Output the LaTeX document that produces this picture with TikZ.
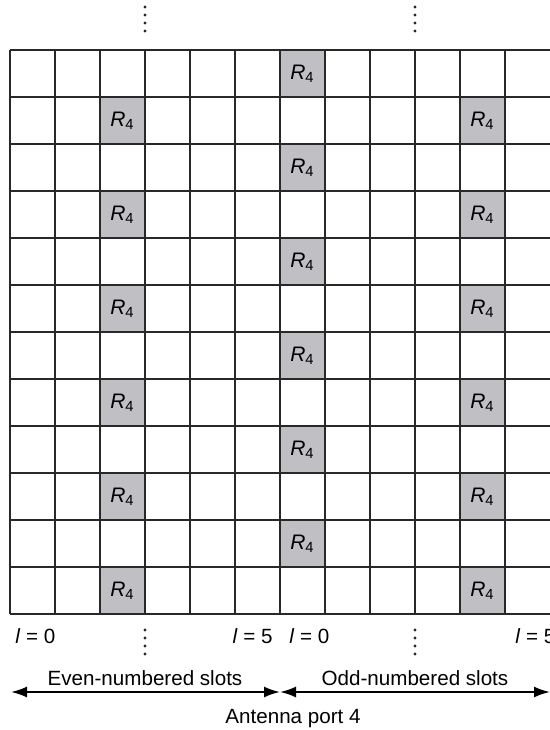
\documentclass[tikz,border=0pt]{standalone}
\usepackage{fontspec}
\setmainfont{Liberation Sans}
\usepackage{tikz}
\usetikzlibrary{positioning, arrows.meta}

\definecolor{cellgray}{RGB}{192,192,196}
\definecolor{gridcol}{RGB}{40,40,40}
\newcommand{\rfour}{\textit{R}\textsubscript{4}}

\begin{document}
\begin{tikzpicture}[
    x=0.5pt, y=-0.5pt,
    refcell/.style={
        fill=cellgray,
        minimum width=22.5pt,
        minimum height=23.5pt,
        inner sep=0pt,
        font=\fontsize{10.5}{12}\selectfont
    },
    gridline/.style={draw=gridcol, line width=0.65pt},
    lbl/.style={inner sep=0pt, font=\fontsize{10.3}{12}\selectfont},
    span/.style={line width=1pt, {Latex[length=8pt,width=5.5pt]}-{Latex[length=8pt,width=5.5pt]}},
    dot/.style={fill=black!85}
]
\useasboundingbox (0,0) rectangle (550,730);

% Reference signals, even-numbered slot (l = 2)
\node[refcell] (e1) at (122.5,120.5) {\rfour};
\node[refcell] (e3) at (122.5,214.5) {\rfour};
\node[refcell] (e5) at (122.5,308.5) {\rfour};
\node[refcell] (e7) at (122.5,402.5) {\rfour};
\node[refcell] (e9) at (122.5,496.5) {\rfour};
\node[refcell] (e11) at (122.5,590.5) {\rfour};

% Reference signals, odd-numbered slot (l = 0)
\node[refcell] (m0) at (302.5,73.5) {\rfour};
\node[refcell] (m2) at (302.5,167.5) {\rfour};
\node[refcell] (m4) at (302.5,261.5) {\rfour};
\node[refcell] (m6) at (302.5,355.5) {\rfour};
\node[refcell] (m8) at (302.5,449.5) {\rfour};
\node[refcell] (m10) at (302.5,543.5) {\rfour};

% Reference signals, odd-numbered slot (l = 4)
\node[refcell] (o1) at (482.5,120.5) {\rfour};
\node[refcell] (o3) at (482.5,214.5) {\rfour};
\node[refcell] (o5) at (482.5,308.5) {\rfour};
\node[refcell] (o7) at (482.5,402.5) {\rfour};
\node[refcell] (o9) at (482.5,496.5) {\rfour};
\node[refcell] (o11) at (482.5,590.5) {\rfour};

% Resource grid
\foreach \i in {0,...,11}
    \draw[gridline] (10+45*\i,50) -- (10+45*\i,614);
\foreach \j in {0,...,12}
    \draw[gridline] (10,50+47*\j) -- (550,50+47*\j);

% Dots
\foreach \y in {7,15,23,31,630,638,646,654} {
    \fill[dot] (145,\y) circle (0.8pt);
    \fill[dot] (415,\y) circle (0.8pt);
}

% Symbol labels
\node[lbl, anchor=base west] (l0a) at (15,643) {\textit{l} = 0};
\node[lbl, anchor=base east] (l5a) at (273,643) {\textit{l} = 5};
\node[lbl, anchor=base west] (l0b) at (289,643) {\textit{l} = 0};
\node[lbl, anchor=base west] (l5b) at (515,643) {\textit{l} = 5};

% Slot arrows
\coordinate (evenL) at (11,692);
\coordinate (slotM) at (280,692);
\coordinate (oddR) at (550,692);
\draw[span] (evenL) -- (slotM);
\draw[span] (slotM) -- (oddR);

\node[lbl, anchor=base] (even) at (145,685) {Even-numbered slots};
\node[lbl, anchor=base] (odd) at (415,685) {Odd-numbered slots};
\node[lbl, anchor=base] (port) at (293,723) {Antenna port 4};

\end{tikzpicture}
\end{document}
